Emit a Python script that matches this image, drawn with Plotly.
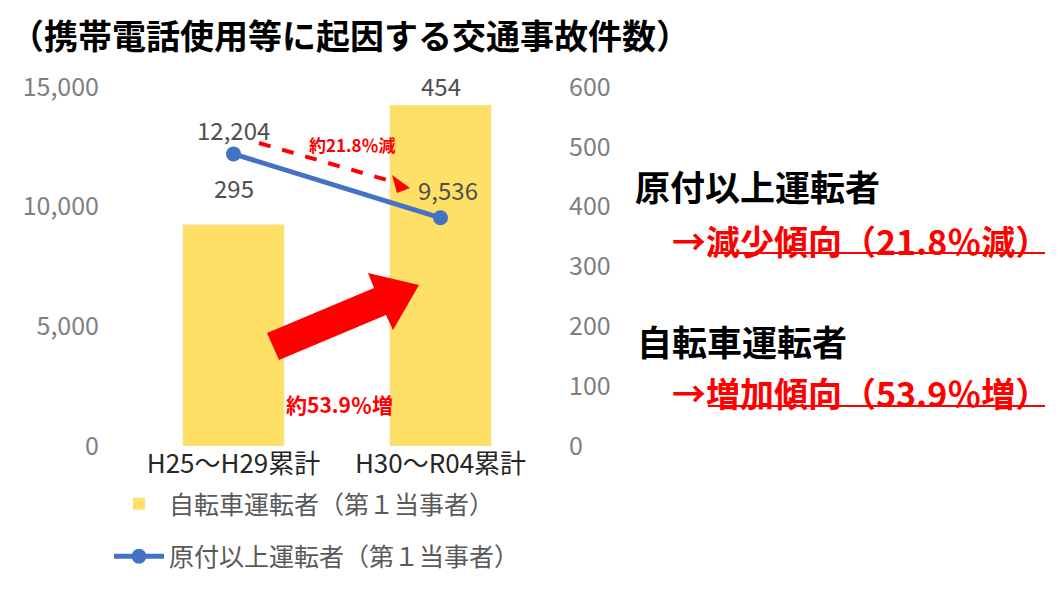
import plotly.graph_objects as go

# %% data
# --------------------
categories = ["H25～H29累計", "H30～R04累計"]
bicycle = [295, 454]          # 自転車運転者（第１当事者）
motor = [12204, 9536]         # 原付以上運転者（第１当事者）
left_ticks = [0, 5000, 10000, 15000]
right_ticks = [0, 100, 200, 300, 400, 500, 600]

title_text = "（携帯電話使用等に起因する交通事故件数）"
bike_name = "自転車運転者（第１当事者）"
motor_name = "原付以上運転者（第１当事者）"

FONT = "Noto Sans CJK JP"
RED = "#FF0000"

# page body has an 8px margin, so figure pixels = screen pixels - 8
OFF = 8
W, H = 1060, 592
# plot area in screen pixels
L, R, T, B = 130, 544, 87, 446


def px(x):
    return (x - L) / (R - L)


def py(y):
    return (B - y) / (B - T)


# %% figure
# --------------------
fig = go.Figure()
# bars sit on the bottom (hidden) axis, the line on the top overlay
fig.add_trace(go.Bar(x=categories, y=bicycle, name=bike_name, yaxis="y",
                     marker_color="#FFE066", width=0.49,
                     legendgroup="a"))
# empty trace so the right-hand axis gets drawn
fig.add_trace(go.Scatter(x=categories, y=[None, None], yaxis="y2",
                         mode="markers", showlegend=False, hoverinfo="skip"))
fig.add_trace(go.Scatter(x=categories, y=motor, name=motor_name, yaxis="y3",
                         mode="lines+markers",
                         line=dict(color="#4472C4", width=5),
                         marker=dict(size=15, color="#4472C4"),
                         legendgroup="b"))

tick_font = dict(size=25, color="#808080")
fig.update_layout(
    width=W, height=H,
    margin=dict(l=L - OFF, r=W - R + OFF, t=T - OFF, b=H - B + OFF,
                autoexpand=False),
    plot_bgcolor="white", paper_bgcolor="white",
    font=dict(family=FONT, color="#404040"),
    bargap=0.51,
    xaxis=dict(showgrid=False, showline=False, zeroline=False, ticks="",
               tickfont=dict(size=26, color="#262626")),
    yaxis=dict(range=[0, 478], visible=False),
    yaxis2=dict(range=[0, 600], tickvals=right_ticks, overlaying="y",
                side="right", showgrid=False, zeroline=False, showline=False,
                ticklabelstandoff=24, tickfont=tick_font),
    yaxis3=dict(range=[0, 15000], tickvals=left_ticks, tickformat=",",
                overlaying="y", side="left",
                showgrid=False, zeroline=False, showline=False,
                ticklabelstandoff=30, tickfont=tick_font),
    legend=dict(x=px(109), y=py(481), xanchor="left", yanchor="top",
                traceorder="grouped", tracegroupgap=17, itemwidth=50,
                font=dict(size=25, color="#595959"), bgcolor="rgba(0,0,0,0)"),
)

# data labels
for c, v, dy in zip(categories, bicycle, [37, 20]):
    fig.add_annotation(x=c, y=v, yref="y", text=f"{v:,}", showarrow=False,
                       yshift=dy, font=dict(size=24, color="#505050"))
for c, v, dx, dy in zip(categories, motor, [0, 7], [24, 28]):
    fig.add_annotation(x=c, y=v, yref="y3", text=f"{v:,}", showarrow=False,
                       xshift=dx, yshift=dy, font=dict(size=24, color="#505050"))

# title
fig.add_annotation(xref="paper", yref="paper", x=px(OFF), y=py(34),
                   xanchor="left", yanchor="middle", showarrow=False,
                   text=f"<b>{title_text}</b>",
                   font=dict(size=34, color="black"))

# right side notes
notes = [
    ("原付以上運転者", 633, 185, "black", 35),
    ("→減少傾向（21.8％減）", 670, 240, RED, 34),
    ("自転車運転者", 635, 340, "black", 35),
    ("→増加傾向（53.9％増）", 670, 392, RED, 34),
]
for txt, x0, y0, col, size in notes:
    fig.add_annotation(xref="paper", yref="paper", x=px(x0), y=py(y0),
                       xanchor="left", yanchor="middle", showarrow=False,
                       text=f"<b>{txt}</b>", font=dict(size=size, color=col))
for y0 in [253, 406]:
    fig.add_shape(type="line", xref="paper", yref="paper",
                  x0=px(708), x1=px(1045), y0=py(y0), y1=py(y0),
                  line=dict(color=RED, width=2))

# dashed arrow with label
fig.add_shape(type="line", xref="paper", yref="paper",
              x0=px(259), y0=py(143), x1=px(394), y1=py(182),
              line=dict(color=RED, width=4, dash="dash"))
head = [(410, 188), (392, 175), (397, 193)]
fig.add_shape(type="path", xref="paper", yref="paper",
              path="M" + " L".join(f"{px(a)},{py(b)}" for a, b in head) + " Z",
              fillcolor=RED, line=dict(width=0))
fig.add_annotation(xref="paper", yref="paper", x=px(352), y=py(144),
                   xanchor="center", yanchor="middle",
                   showarrow=False, text="<b>約21.8％減</b>",
                   font=dict(size=17, color=RED))

# block arrow with label
block = [(267, 333), (374, 288), (368, 273), (419, 285),
         (393, 330), (386, 315), (279, 360)]
fig.add_shape(type="path", xref="paper", yref="paper",
              path="M" + " L".join(f"{px(a)},{py(b)}" for a, b in block) + " Z",
              fillcolor=RED, line=dict(width=0))
fig.add_annotation(xref="paper", yref="paper", x=px(339), y=py(404),
                   xanchor="center", yanchor="middle",
                   showarrow=False, text="<b>約53.9％増</b>",
                   font=dict(size=21, color=RED))

fig.write_html("out.html")
